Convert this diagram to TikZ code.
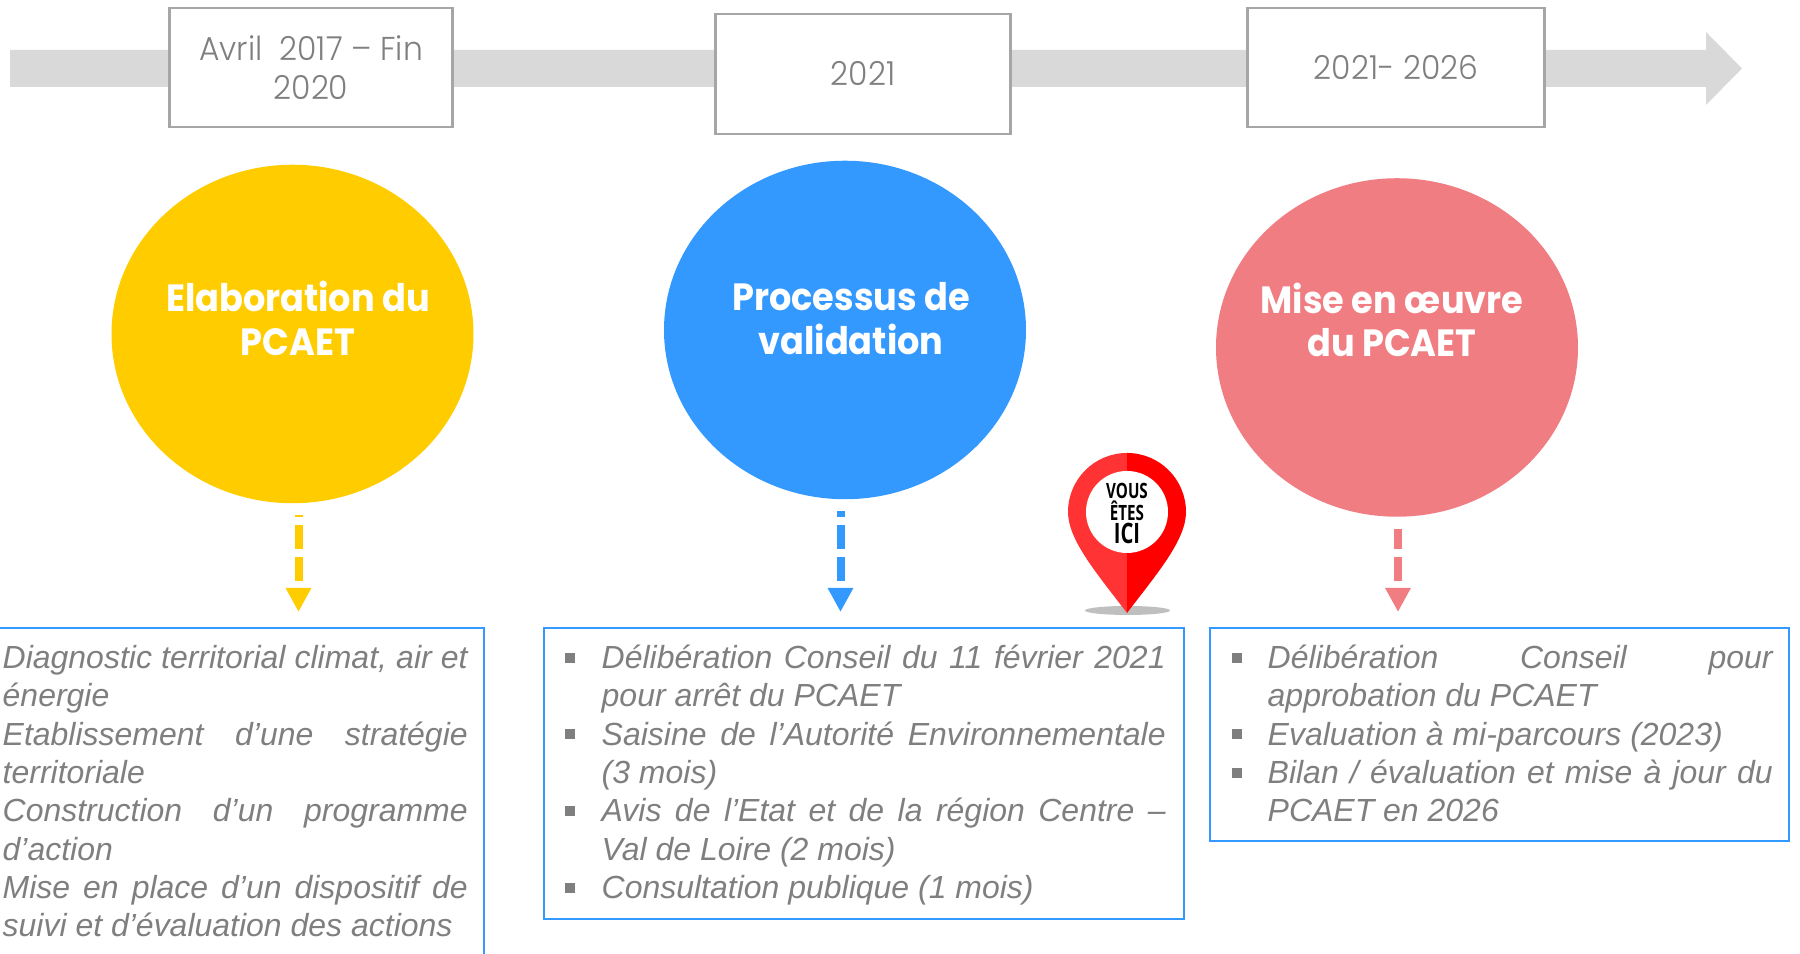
\documentclass[tikz,border=0pt]{standalone}
\usepackage{fontspec}
\usepackage{graphicx}
\usetikzlibrary{arrows.meta,shapes.geometric}
\setmainfont{Liberation Sans}
\newfontfamily\gothique[FakeStretch=.925]{Poppins}
\newfontfamily\gothiquefine[FakeStretch=.95]{Poppins Light}
\newfontfamily\panneau{Open Sans}
\definecolor{barre}{HTML}{D9D9D9}
\definecolor{cadregris}{HTML}{A6A6A6}
\definecolor{textegris}{HTML}{7F7F7F}
\definecolor{jaune}{HTML}{FFCC00}
\definecolor{bleu}{HTML}{3399FF}
\definecolor{rose}{HTML}{F07D81}
\definecolor{rougeclair}{HTML}{FF3333}
\definecolor{ombre}{HTML}{BFBFBF}
\newcommand{\puce}[1]{\noindent\hangindent=#1\hangafter=1\makebox[#1][l]{\hspace{-.01cm}\raisebox{.06cm}{\rule{.1cm}{.1cm}}}}
\newcommand{\etroit}[1]{\scalebox{.72}[1]{#1}}
\tikzstyle{date} =[shape=rectangle,draw=cadregris,fill=white,line width=.025cm,
inner sep=0,align=center,text=textegris,font=\gothiquefine\fontsize{9.4}{11.06}\selectfont]
\tikzstyle{cercle} =[shape=ellipse,inner sep=0,minimum width=3.62cm,minimum height=3.385cm]
\tikzstyle{titre} =[inner sep=0,align=center,text=white,font=\gothique\bfseries\fontsize{10.8}{12.5}\selectfont]
\tikzstyle{fleche} =[line width=.08cm,dash pattern=on .24cm off .08cm,
-{Triangle[length=.24cm,width=.24cm]}]
\tikzstyle{cadre} =[shape=rectangle,draw=bleu,line width=.02cm,inner sep=0]
\tikzstyle{liste} =[inner sep=0,anchor=north west,align=justify,text=textegris,
font=\itshape\fontsize{9.1}{10.91}\selectfont]
\tikzstyle{mot} =[inner sep=0,anchor=base,text=black,font=\panneau\bfseries]

\begin{document}
\begin{tikzpicture}
	\useasboundingbox (0,0) rectangle (18,9.54);
	\clip (0,0) rectangle (18,9.54);
	\fill[barre] (.10,9.04) -- (17.06,9.04) -- (17.06,9.22) -- (17.42,8.855)
	-- (17.06,8.49) -- (17.06,8.67) -- (.10,8.67) -- cycle;
	\node[date,minimum width=2.83cm,minimum height=1.19cm] (dateA) at (3.11,8.865)
	{Avril\ \ 2017 – Fin\\2020};
	\node[date,minimum width=2.95cm,minimum height=1.20cm] (dateB) at (8.63,8.80) {2021};
	\node[date,minimum width=2.97cm,minimum height=1.19cm] (dateC) at (13.96,8.865) {2021- 2026};
	
	\node[cercle,fill=jaune] (cercleA) at (2.925,6.20) {};
	\node[cercle,fill=bleu] (cercleB) at (8.45,6.24) {};
	\node[cercle,fill=rose] (cercleC) at (13.97,6.065) {};
	\node[titre] (titreA) at (2.98,6.36) {Elaboration du\\PCAET};
	\node[titre] (titreB) at (8.51,6.35) {Processus de\\validation};
	\node[titre] (titreC) at (13.92,6.34) {Mise en \oe uvre\\du PCAET};
	
	\coordinate (debutA) at (2.985,4.39);
	\coordinate (finA) at (2.985,3.42);
	\coordinate (debutB) at (8.405,4.43);
	\coordinate (finB) at (8.405,3.42);
	\coordinate (debutC) at (13.98,4.25);
	\coordinate (finC) at (13.98,3.42);
	\draw[fleche,draw=jaune,dash phase=.22cm] (debutA) -- (finA);
	\draw[fleche,draw=bleu,dash phase=.18cm] (debutB) -- (finB);
	\draw[fleche,draw=rose,dash phase=.04cm] (debutC) -- (finC);
	
	\node[shape=ellipse,fill=ombre,inner sep=0,minimum width=.85cm,minimum height=.09cm] (ombrepin) at (11.275,3.435) {};
	\fill[rougeclair] (11.27,5.01) arc[start angle=90,end angle=180,radius=.59]
	.. controls (10.68,4.14) and (10.967,3.807) .. (11.27,3.41) -- cycle;
	\fill[red] (11.27,5.01) arc[start angle=90,end angle=0,radius=.59]
	.. controls (11.86,4.14) and (11.573,3.807) .. (11.27,3.41) -- cycle;
	\node[shape=circle,fill=white,inner sep=0,minimum size=.82cm] (rondpin) at (11.27,4.42) {};
	\node[mot,font=\panneau\bfseries\fontsize{6}{7}\selectfont] (motA) at (11.27,4.55) {\etroit{VOUS}};
	\node[mot,font=\panneau\bfseries\fontsize{6}{7}\selectfont] (motB) at (11.27,4.335) {\etroit{ÊTES}};
	\node[mot,font=\panneau\bfseries\fontsize{8}{9}\selectfont] (motC) at (11.27,4.10) {\etroit{ICI}};
	
	\node[cadre,anchor=north east,minimum width=5.2cm,minimum height=3.6cm] (cadreA) at (4.85,3.27) {};
	\node[cadre,anchor=north west,minimum width=6.40cm,minimum height=2.91cm] (cadreB) at (5.43,3.27) {};
	\node[cadre,anchor=north west,minimum width=5.79cm,minimum height=2.13cm] (cadreC) at (12.09,3.27) {};
	
	\node[liste,text width=4.65cm] (listeA) at (.02,3.13) {\strut
		Diagnostic territorial climat, air et\linebreak énergie\par
		\noindent Etablissement d’une stratégie\linebreak territoriale\par
		\noindent Construction d’un programme\linebreak d’action\par
		\noindent Mise en place d’un dispositif de\linebreak suivi et d’évaluation des actions};
	\node[liste,text width=6cm] (listeB) at (5.65,3.13) {\puce{.36cm}\strut
		Délibération Conseil du 11 février 2021\linebreak pour arrêt du PCAET\par
		\puce{.36cm}Saisine de l’Autorité Environnementale\linebreak (3 mois)\par
		\puce{.36cm}Avis de l’Etat et de la région Centre –\linebreak Val de Loire (2 mois)\par
		\puce{.36cm}Consultation publique (1 mois)\par};
	\node[liste,text width=5.40cm] (listeC) at (12.32,3.13) {\puce{.35cm}\strut
		Délibération Conseil pour\linebreak approbation du PCAET\par
		\puce{.35cm}Evaluation à mi-parcours (2023)\par
		\puce{.35cm}Bilan / évaluation et mise à jour du\linebreak PCAET en 2026\par};
\end{tikzpicture}
\end{document}
